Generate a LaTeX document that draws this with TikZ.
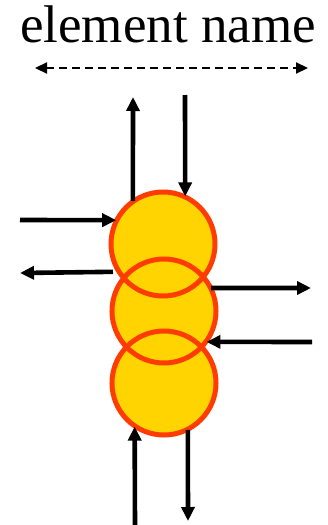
\documentclass[tikz,border=0pt]{standalone}
\usepackage{fontspec}
\setmainfont{Liberation Serif}
\usepackage{tikz}
\usetikzlibrary{arrows.meta}
\definecolor{ballfill}{HTML}{FFD400}
\definecolor{ballring}{HTML}{FF3C00}

\begin{document}
\begin{tikzpicture}[x=1pt, y=-1pt,
  ball/.style={circle, fill=ballfill, minimum size=105pt, inner sep=0pt, outer sep=0pt},
  ring/.style={draw=ballring, line width=5pt},
  arrow/.style={-{Triangle[length=14pt, width=13pt]}, line width=4.6pt},
  dimline/.style={{Triangle[length=12pt, width=11pt]}-{Triangle[length=12pt, width=11pt]}, line width=2.2pt, dash pattern=on 8pt off 5pt}
]
  \useasboundingbox (0,0) rectangle (328,525);

  \node[font=\fontsize{53}{60}\selectfont, anchor=base] (title) at (168,42) {element name};
  \coordinate (dimL) at (35,68);
  \coordinate (dimR) at (308,68);
  \draw[dimline] (dimL) -- (dimR);

  % the three elements, filled first so every ring stays visible
  \node[ball] (b1) at (163,244) {};
  \node[ball] (b2) at (164,311) {};
  \node[ball] (b3) at (164,383) {};
  \foreach \b in {b1,b2,b3}
    \draw[ring] (\b.center) circle[radius=52pt];

  % free ends of the connectors
  \coordinate (upT) at (133,97);
  \coordinate (downT) at (185,95);
  \coordinate (inL) at (20,220);
  \coordinate (outL) at (20,273);
  \coordinate (outR) at (311,288);
  \coordinate (inR) at (312,342);
  \coordinate (upB) at (135,525);
  \coordinate (downB) at (188,521);

  \draw[arrow] (b1.125) -- (upT);
  \draw[arrow] (downT) -- (b1.65);
  \draw[arrow] (inL) -- (b1.153);
  \draw[arrow] (b1.212 -| 113,0) -- (outL);
  \draw[arrow] (b2.26) -- (outR);
  \draw[arrow] (inR) -- (b2.-36);
  \draw[arrow] (upB) -- (b3.236);
  \draw[arrow] (b3.297) -- (downB);
\end{tikzpicture}
\end{document}
